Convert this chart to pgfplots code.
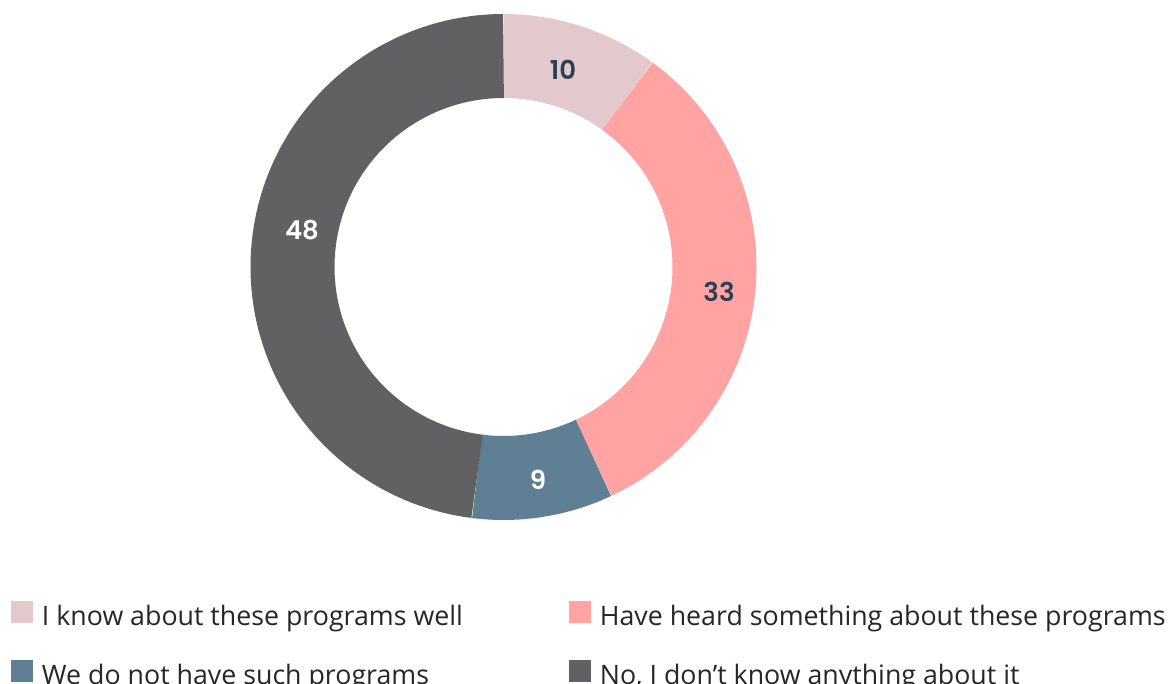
\documentclass[border=0pt]{standalone}
\usepackage{pgfplots}
\usepackage{pgfplotstable}
\pgfplotsset{compat=1.18}
\usepackage{fontspec}
\setmainfont{Open Sans}
\newfontfamily\legendfont{Open Sans}
\newfontfamily\labelfont{Poppins}[BoldFont={Poppins SemiBold}]
\definecolor{cA}{HTML}{E3C9CB}
\definecolor{cB}{HTML}{FFA4A2}
\definecolor{cC}{HTML}{5F7F94}
\definecolor{cD}{HTML}{616163}
\definecolor{lbldark}{HTML}{2B3F55}
\definecolor{legtext}{HTML}{262626}

\pgfplotstableread{
value
10
33
9
48
}\donutdata

\begin{document}
\begin{tikzpicture}
\pgfplotstablegetelem{0}{value}\of\donutdata \pgfmathsetmacro\vA{\pgfplotsretval}
\pgfplotstablegetelem{1}{value}\of\donutdata \pgfmathsetmacro\vB{\pgfplotsretval}
\pgfplotstablegetelem{2}{value}\of\donutdata \pgfmathsetmacro\vC{\pgfplotsretval}
\pgfplotstablegetelem{3}{value}\of\donutdata \pgfmathsetmacro\vD{\pgfplotsretval}
\pgfmathsetmacro\tot{\vA+\vB+\vC+\vD}
\pgfmathsetmacro\aA{90}
\pgfmathsetmacro\aB{\aA-\vA/\tot*360}
\pgfmathsetmacro\aC{\aB-\vB/\tot*360}
\pgfmathsetmacro\aD{\aC-\vC/\tot*360}
\pgfmathsetmacro\aE{\aD-\vD/\tot*360}
\def\cx{503.5}
\def\cy{417}
\def\rmid{211}
\begin{axis}[
  scale only axis, width=1170pt, height=684pt,
  xmin=0, xmax=1170, ymin=0, ymax=684,
  hide axis, clip=false,
  legend columns=2,
  legend cell align=left,
  legend image code/.code={\fill[#1, draw=none, line width=0pt] (0pt,-4pt) rectangle (22pt,18pt);},
  legend style={draw=none, fill=none, inner sep=0pt, outer sep=0pt,
    at={(axis cs:11,83)}, anchor=north west,
    font=\legendfont\fontsize{26.75}{30}\selectfont, text=legtext,
    nodes={inner sep=0pt, text height=20pt, text depth=6pt},
    row sep=28pt,
    /tikz/every odd column/.append style={column sep=9pt},
    /tikz/every even column/.append style={column sep=106pt}},
]
\addplot[color=cA, line width=84pt, line cap=butt, domain=\aB:\aA, samples=60, variable=\t] ({\cx+\rmid*cos(\t)},{\cy+\rmid*sin(\t)});
\addlegendentry{I know about these programs well}
\addplot[color=cB, line width=84pt, line cap=butt, domain=\aC:\aB, samples=120, variable=\t] ({\cx+\rmid*cos(\t)},{\cy+\rmid*sin(\t)});
\addlegendentry{Have heard something about these programs}
\addplot[color=cC, line width=84pt, line cap=butt, domain=\aD:\aC, samples=60, variable=\t] ({\cx+\rmid*cos(\t)},{\cy+\rmid*sin(\t)});
\addlegendentry{We do not have such programs}
\addplot[color=cD, line width=84pt, line cap=butt, domain=\aE:\aD, samples=160, variable=\t] ({\cx+\rmid*cos(\t)},{\cy+\rmid*sin(\t)});
\addlegendentry{No, I don’t know anything about it}
\node[font=\labelfont\bfseries\fontsize{26}{30}\selectfont, text=lbldark] at (axis cs:563,614) {10};
\node[font=\labelfont\bfseries\fontsize{26}{30}\selectfont, text=lbldark] at (axis cs:719,392) {33};
\node[font=\labelfont\bfseries\fontsize{26}{30}\selectfont, text=white] at (axis cs:538,204) {9};
\node[font=\labelfont\bfseries\fontsize{26}{30}\selectfont, text=white] at (axis cs:302,454) {48};
\end{axis}
\pgfresetboundingbox
\path[use as bounding box] (0,0) rectangle (1170pt,684pt);
\end{tikzpicture}
\end{document}
